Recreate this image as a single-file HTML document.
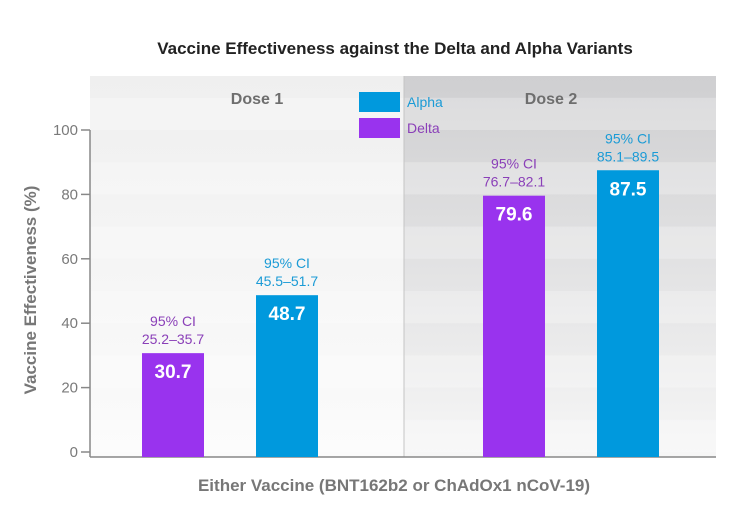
<!DOCTYPE html>
<html><head><meta charset="utf-8"><style>
body{margin:0;background:#fff;}
svg{display:block;font-family:"Liberation Sans",sans-serif;}
</style></head><body>
<svg id="c" width="751" height="512" viewBox="0 0 751 512">
<defs>
<linearGradient id="g2" x1="0" y1="0" x2="0" y2="1"><stop offset="0" stop-color="#cfcfd1"/><stop offset="1" stop-color="#f6f6f6"/></linearGradient>
<linearGradient id="g1" x1="0" y1="0" x2="0" y2="1"><stop offset="0" stop-color="#efefef"/><stop offset="1" stop-color="#fbfbfb"/></linearGradient>
</defs>
<g id="bg"></g>
<g id="marks"></g>
</svg>
<script>
const categories=["Dose 1 Delta","Dose 1 Alpha","Dose 2 Delta","Dose 2 Alpha"];
const values=[30.7,48.7,79.6,87.5];
const ciLabels=["25.2–35.7","45.5–51.7","76.7–82.1","85.1–89.5"];
const variants=["Delta","Alpha","Delta","Alpha"];
const yTicks=[0,20,40,60,80,100];
const NS="http://www.w3.org/2000/svg";
const bg=document.getElementById('bg'), marks=document.getElementById('marks');
const X0=90,X1=716,XD=404,YTOP=76,AXB=457;
function y(v){return 452-v*3.22;}
const barX=[142,256,483,597], BW=62;
function x(i){return barX[i];}
function el(tag,attrs,parent,text){const e=document.createElementNS(NS,tag);for(const k in attrs)e.setAttribute(k,attrs[k]);if(text!==undefined)e.textContent=text;parent.appendChild(e);return e;}
const col={Delta:"#9933ee",Alpha:"#0099dd"};
const tcol={Delta:"#8a3fb8",Alpha:"#1b9bd6"};
let r=el('rect',{x:X0,y:YTOP,width:XD-X0,height:AXB-YTOP,fill:'url(#g1)'},bg);

r=el('rect',{x:XD,y:YTOP,width:X1-XD,height:AXB-YTOP,fill:'url(#g2)'},bg);

for(let v=0;v<110;v+=20){
  const s=el('rect',{x:X0,y:y(v+10),width:X1-X0,height:y(v)-y(v+10),fill:'#ffffff',opacity:0.25},bg);
  
}
let l=el('line',{x1:XD,y1:YTOP,x2:XD,y2:AXB,stroke:'#c4c4c4','stroke-width':1},bg);

l=el('line',{x1:X0,y1:y(100),x2:X0,y2:AXB,stroke:'#888','stroke-width':1.5},marks);

l=el('line',{x1:X0,y1:AXB,x2:X1,y2:AXB,stroke:'#888','stroke-width':1.5},marks);

yTicks.forEach(v=>{
  const t=el('line',{x1:X0-9,y1:y(v),x2:X0,y2:y(v),stroke:'#888','stroke-width':1.5},marks);
  
  const tx=el('text',{x:X0-12,y:y(v)+5,'text-anchor':'end','font-size':15,fill:'#7a7a7a'},marks,String(v));
  
});
values.forEach((v,i)=>{
  const vr=variants[i];
  const b=el('rect',{x:x(i),y:y(v),width:BW,height:AXB-y(v),fill:col[vr]},marks);
  
  
  const vl=el('text',{x:x(i)+BW/2,y:y(v)+25,'text-anchor':'middle','font-size':19,'font-weight':'bold',fill:'#fff'},marks,v.toFixed(1));
  
  const c1=el('text',{x:x(i)+BW/2,y:y(v)-27,'text-anchor':'middle','font-size':14,fill:tcol[vr]},marks,'95% CI');
  
  const c2=el('text',{x:x(i)+BW/2,y:y(v)-9,'text-anchor':'middle','font-size':14,fill:tcol[vr]},marks,ciLabels[i]);
  
});
let t=el('text',{x:257,y:104,'text-anchor':'middle','font-size':16,'font-weight':'bold',fill:'#6e6e6e'},marks,'Dose 1');

t=el('text',{x:551,y:104,'text-anchor':'middle','font-size':16,'font-weight':'bold',fill:'#6e6e6e'},marks,'Dose 2');

[["Alpha",92],["Delta",118]].forEach(([n,yy])=>{
  const b=el('rect',{x:359,y:yy,width:41,height:20,fill:col[n]},marks);
  
  const tt=el('text',{x:407,y:yy+15,'font-size':14,fill:tcol[n]},marks,n);
  
});
t=el('text',{x:395,y:54,'text-anchor':'middle','font-size':17,'font-weight':'bold',fill:'#222'},marks,'Vaccine Effectiveness against the Delta and Alpha Variants');

t=el('text',{x:394,y:491,'text-anchor':'middle','font-size':17,'font-weight':'bold',fill:'#777'},marks,'Either Vaccine (BNT162b2 or ChAdOx1 nCoV-19)');

t=el('text',{x:36,y:290,'text-anchor':'middle','font-size':17,'font-weight':'bold',fill:'#777',transform:'rotate(-90 36 290)'},marks,'Vaccine Effectiveness (%)');

</script>
</body></html>
